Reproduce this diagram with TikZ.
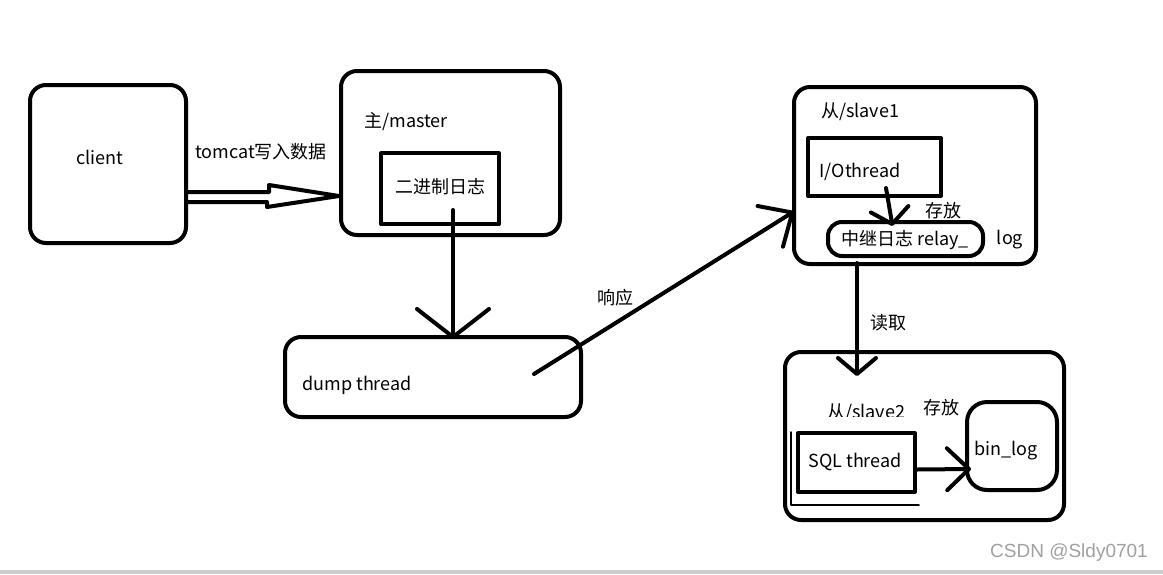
\documentclass[tikz,border=0pt]{standalone}
\usepackage{fontspec}
\setmainfont{Noto Sans CJK SC}
\newfontfamily\wmfont{Liberation Sans}
\usetikzlibrary{arrows.meta,calc}
\definecolor{barcolor}{RGB}{204,204,204}
\definecolor{wmcolor}{RGB}{160,160,160}

\begin{document}
\begin{tikzpicture}[x=1pt,y=-1pt,line join=round,line cap=round,
  font=\fontsize{18}{21}\selectfont,
  box/.style={draw,line width=4pt,rounded corners=16pt,inner sep=0pt},
  sqbox/.style={draw,line width=4pt,inner sep=0pt},
  conn/.style={line width=4pt}]
\useasboundingbox (0,0) rectangle (1163,574);
\fill[barcolor] (0,570) rectangle (1163,574);
% boxes
\node[box,minimum width=156pt,minimum height=158pt] (client) at (108,164) {};
\node[box,minimum width=219pt,minimum height=164pt] (master) at (450.5,153) {};
\node[sqbox,minimum width=118pt,minimum height=71pt] (binary) at (440,188.5) {};
\node[box,minimum width=296pt,minimum height=80pt] (dump) at (433,377) {};
\node[box,minimum width=242pt,minimum height=177pt] (slaveA) at (915,175.5) {};
\node[sqbox,minimum width=133pt,minimum height=58pt] (io) at (874.5,167) {};
\node[box,rounded corners=14pt,minimum width=155pt,minimum height=34pt] (relay) at (905.5,239) {};
\node[box,minimum width=279pt,minimum height=168pt] (slaveB) at (924.5,436) {};
\node[sqbox,minimum width=117pt,minimum height=59pt] (sql) at (856.5,462.5) {};
\node[box,rounded corners=20pt,minimum width=90pt,minimum height=88pt] (binlog) at (1012,446) {};
\draw[line width=1.5pt] ($(sql.north west)+(-5,1)$) |- ($(sql.south east)+(2,11)$);
% labels
\node (clientlbl) at (100,157) {client};
\node (tomcatlbl) at (261,152) {tomcat写入数据};
\node (masterlbl) at (406,122) {主/master};
\node (binarylbl) at (440,187) {二进制日志};
\node (dumplbl) at (357,385) {dump thread};
\node (answerlbl) at (615,298) {响应};
\node (slaveAlbl) at (860,112) {从/slave1};
\node (iolbl) at (860,172) {I/Othread};
\node (storeAlbl) at (943,211) {存放};
\node (relaylbl) at (905,240) {中继日志 relay\_};
\node (loglbl) at (1010,240) {log};
\node (readlbl) at (888,323) {读取};
\begin{scope}
\clip (800,395) rectangle (930,416);
\node (slaveBlbl) at (866,413) {从/slave2};
\end{scope}
\node (storeBlbl) at (941,408) {存放};
\node (sqllbl) at (855,462) {SQL thread};
\node (binloglbl) at (1006,451) {bin\_log};
\node[font=\wmfont\fontsize{19}{21}\selectfont,text=wmcolor] (mark) at (1069,553) {CSDN @Sldy0701};
% connectors
\draw[conn] ($(client.east)+(0,28)$) -- ++(81,0) -- ++(0,-7) -- ($(master.west)+(0,43)$)
  -- (267,207) -- (267,202) -- ($(client.east)+(0,38)$);
\coordinate (binout) at (453,210);
\draw[conn,-{Straight Barb[round,length=28pt,width=72pt]}] (binout) -- ($(binout |- dump.north)+(0,4)$);
\coordinate (dumpout) at (534,374);
\draw[conn,-{Straight Barb[round,length=26pt,width=48pt]}] (dumpout) -- ($(slaveA.west)+(2,36)$);
\coordinate (ioout) at (886,188);
\draw[conn,-{Straight Barb[round,length=15pt,width=38pt]}] (ioout) -- ($(relay.north)+(-13,6)$);
\coordinate (relayout) at (857,263);
\draw[conn,-{Straight Barb[round,length=16pt,width=38pt]}] (relayout) -- ($(relayout |- slaveB.north)+(0,26)$);
\draw[conn,-{Straight Barb[round,length=22pt,width=42pt]}] ($(sql.east)+(0,7)$) -- ($(binlog.west)+(6,23)$);
\end{tikzpicture}
\end{document}
